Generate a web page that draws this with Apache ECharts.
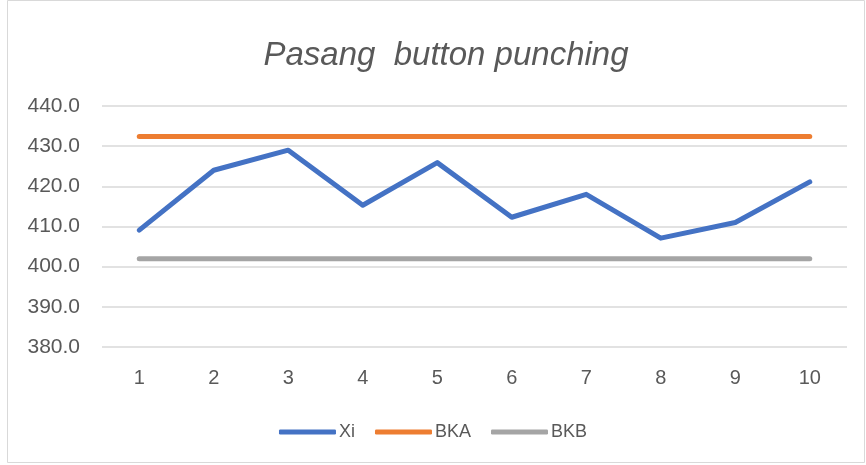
<!DOCTYPE html>
<html>
<head>
<meta charset="utf-8">
<script src="https://cdn.jsdelivr.net/npm/echarts@6/dist/echarts.min.js"></script>
<style>html,body{margin:0;padding:0;background:#fff}#c{width:866px;height:465px}</style>
</head>
<body>
<div id="c"></div>
<script>
const categories = ['1','2','3','4','5','6','7','8','9','10'];
const xi  = [409.1, 424.0, 429.0, 415.3, 425.9, 412.3, 418.0, 407.1, 411.0, 421.1];
const bka = [432.4, 432.4, 432.4, 432.4, 432.4, 432.4, 432.4, 432.4, 432.4, 432.4];
const bkb = [402.0, 402.0, 402.0, 402.0, 402.0, 402.0, 402.0, 402.0, 402.0, 402.0];
const yMin = 380, yMax = 440, yStep = 10;

const chart = echarts.init(document.getElementById('c'), null, {renderer:'canvas'});
const font = 'Liberation Sans, Arial, sans-serif';
const mk = (name, data, color) => ({
  name, type:'line', data, symbol:'none', smooth:false,
  lineStyle:{color, width:5, cap:'round', join:'round'},
  itemStyle:{color}, emphasis:{disabled:true}, animation:false
});
chart.setOption({
  animation:false,
  backgroundColor:'#fff',
  graphic:[{type:'rect', shape:{x:7.5,y:0.5,width:857,height:462}, style:{fill:'none', stroke:'#D9D9D9', lineWidth:1}, silent:true}],
  title:{text:'Pasang  button punching', left:441, textAlign:'center', top:34,
    textStyle:{fontFamily:font, fontStyle:'italic', fontWeight:'normal', fontSize:33, color:'#595959'}},
  grid:{left:102, right:19, top:106, bottom:118, containLabel:false},
  legend:{bottom:19, left:'center', itemWidth:57, itemHeight:5, itemGap:20,
    textStyle:{fontFamily:font, fontSize:18, color:'#595959', padding:[0,0,0,-2]},
    data:[{name:'Xi', icon:'roundRect'},{name:'BKA', icon:'roundRect'},{name:'BKB', icon:'roundRect'}]},
  xAxis:{type:'category', data:categories, boundaryGap:true,
    axisLine:{show:false}, axisTick:{show:false},
    axisLabel:{fontFamily:font, fontSize:20, color:'#595959', margin:21}},
  yAxis:{type:'value', min:yMin, max:yMax, interval:yStep,
    axisLine:{show:false}, axisTick:{show:false},
    splitLine:{lineStyle:{color:'#D9D9D9', width:1.5}},
    axisLabel:{fontFamily:font, fontSize:21, color:'#595959', margin:22,
      formatter:v=>v.toFixed(1)}},
  series:[mk('Xi', xi, '#4472C4'), mk('BKA', bka, '#ED7D31'), mk('BKB', bkb, '#A5A5A5')]
});
</script>
</body>
</html>
